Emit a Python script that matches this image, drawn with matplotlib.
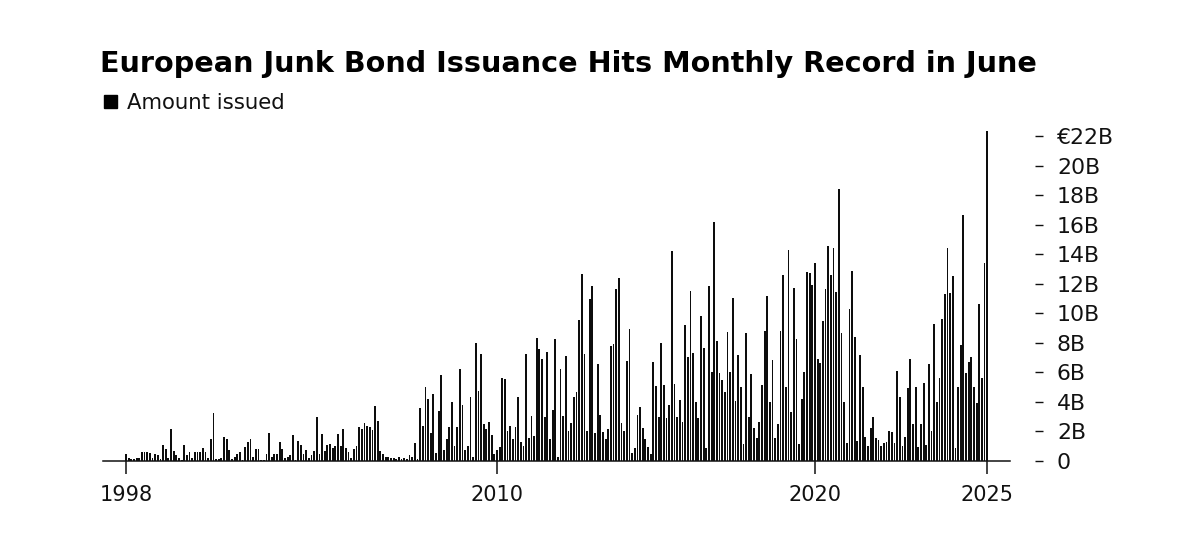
import numpy as np
import matplotlib
matplotlib.use("Agg")
import matplotlib.pyplot as plt
from matplotlib.patches import Rectangle
import pandas as pd

# Monthly European high-yield issuance, EUR billions (May 1998 - Jun 2025)
amt_1998 = [0.45, 0.23, 0.14, 0.16, 0.18, 0.18, 0.59, 0.59]
amt_1999 = [0.59, 0.52, 0.2, 0.5, 0.38, 0.15, 1.06, 0.79, 0.18, 2.14, 0.68, 0.43]
amt_2000 = [0.23, 0.1, 1.06, 0.43, 0.59, 0.23, 0.59, 0.59, 0.59, 0.9, 0.59, 0.23]
amt_2001 = [1.49, 3.27, 0.15, 0.11, 0.2, 1.65, 1.51, 0.74, 0.16, 0.3, 0.45, 0.6]
amt_2002 = [0.1, 0.93, 1.3, 1.49, 0.3, 0.84, 0.79, 0.1, 0.1, 0.5, 1.9, 0.3]
amt_2003 = [0.5, 0.5, 1.29, 0.79, 0.18, 0.3, 0.4, 1.78, 0.1, 1.38, 1.06, 0.45]
amt_2004 = [0.77, 0.18, 0.4, 0.65, 3.0, 0.5, 1.8, 0.68, 1.06, 1.15, 0.9, 0.99]
amt_2005 = [1.85, 0.99, 2.17, 0.9, 0.6, 0.18, 0.84, 1.0, 2.3, 2.2, 2.55, 2.4]
amt_2006 = [2.28, 2.1, 3.7, 2.7, 0.65, 0.45, 0.3, 0.25, 0.2, 0.18, 0.11, 0.27]
amt_2007 = [0.11, 0.2, 0.15, 0.38, 0.25, 1.24, 0.16, 3.57, 2.39, 5.03, 4.18, 1.87]
amt_2008 = [4.56, 0.52, 3.4, 5.85, 0.74, 1.5, 2.32, 4.0, 1.04, 2.28, 6.23, 3.77]
amt_2009 = [0.74, 1.0, 4.36, 0.29, 8.01, 4.76, 7.25, 2.5, 2.17, 2.66, 1.76, 0.47]
amt_2010 = [0.74, 0.93, 5.64, 5.53, 2.0, 2.39, 1.47, 2.3, 4.31, 1.29, 1.0, 7.25]
amt_2011 = [1.58, 3.02, 1.69, 8.33, 7.56, 6.93, 3.0, 7.4, 1.5, 3.45, 8.26, 0.29]
amt_2012 = [6.23, 3.05, 7.09, 2.0, 2.57, 4.36, 4.7, 9.55, 12.66, 7.22, 2.0, 11.0]
amt_2013 = [11.87, 1.92, 6.57, 3.09, 1.96, 1.5, 2.14, 7.79, 7.92, 11.63, 12.4, 2.6]
amt_2014 = [2.0, 6.77, 8.94, 0.52, 0.86, 3.09, 3.68, 2.21, 1.5, 0.97, 0.45, 6.68]
amt_2015 = [5.1, 3.0, 8.0, 5.17, 2.93, 3.79, 14.2, 5.24, 3.0, 4.13, 2.62, 9.19]
amt_2016 = [7.02, 11.53, 7.34, 4.0, 2.93, 9.82, 7.63, 0.9, 11.83, 6.0, 16.2, 8.13]
amt_2017 = [5.98, 5.49, 4.65, 8.74, 6.0, 11.06, 4.06, 7.18, 4.99, 1.15, 8.65, 3.0]
amt_2018 = [5.89, 2.21, 1.58, 2.63, 5.17, 8.8, 11.2, 3.97, 6.84, 1.58, 2.5, 8.83]
amt_2019 = [12.57, 5.0, 14.27, 3.3, 11.72, 8.28, 1.15, 4.18, 6.0, 12.82, 12.71, 11.9]
amt_2020 = [13.43, 6.88, 6.64, 9.5, 11.67, 14.58, 12.6, 14.4, 11.47, 18.42, 8.65, 4.0]
amt_2021 = [1.22, 10.32, 12.89, 8.37, 1.35, 7.16, 5.03, 1.6, 1.0, 2.21, 2.98, 1.53]
amt_2022 = [1.42, 1.0, 1.2, 1.31, 2.03, 1.99, 1.2, 6.1, 4.31, 1.0, 1.6, 4.92]
amt_2023 = [6.88, 2.5, 4.99, 0.97, 2.5, 5.28, 1.08, 6.59, 2.0, 9.26, 4.0, 5.6]
amt_2024 = [9.62, 11.33, 14.42, 11.35, 12.53, 0.86, 5.0, 7.88, 16.66, 5.94, 6.68, 7.02]
amt_2025 = [5.0, 3.9, 10.6, 5.6, 13.39, 22.37]

yearly = [amt_1998, amt_1999, amt_2000, amt_2001, amt_2002, amt_2003, amt_2004,
          amt_2005, amt_2006, amt_2007, amt_2008, amt_2009, amt_2010, amt_2011,
          amt_2012, amt_2013, amt_2014, amt_2015, amt_2016, amt_2017, amt_2018,
          amt_2019, amt_2020, amt_2021, amt_2022, amt_2023, amt_2024, amt_2025]
amounts = np.concatenate([np.asarray(v, dtype=float) for v in yearly])
months = pd.date_range("1998-05-01", periods=len(amounts), freq="MS")

tick_dates = pd.to_datetime(["1998-05-01", "2010-01-01", "2020-01-01", "2025-06-01"])
tick_labels = ["1998", "2010", "2020", "2025"]
y_ticks = [0, 2, 4, 6, 8, 10, 12, 14, 16, 18, 20, 22]
y_labels = ["0", "2B", "4B", "6B", "8B", "10B", "12B", "14B", "16B", "18B", "20B", "€22B"]

title = "European Junk Bond Issuance Hits Monthly Record in June"
legend_label = "Amount issued"

plt.rcParams['font.family'] = ['DejaVu Sans']

W, H = 1200, 549
fig = plt.figure(figsize=(W / 100, H / 100), dpi=100)
ax = fig.add_axes([103 / W, (H - 461) / H, (1010 - 103) / W, (461 - 127.2) / H])

x = np.arange(len(amounts))
ax.bar(x, amounts, width=0.68, color="#0d0d0d", edgecolor="none")
ax.set_xlim(-8.68, 333.6)
ax.set_ylim(0, 22.6)

pos = [months.get_loc(d) for d in tick_dates]
ax.set_xticks(pos)
ax.set_xticklabels(tick_labels)
ax.tick_params(axis="x", direction="out", length=9, width=1.1, color="#111111",
               labelsize=15, pad=8, labelcolor="#111111")

ax.yaxis.tick_right()
ax.spines["right"].set_position(("outward", 18))
ax.spines["right"].set_visible(False)
ax.set_yticks(y_ticks)
ax.set_yticklabels(y_labels)
ax.tick_params(axis="y", direction="out", length=5.8, width=1.0, color="#111111",
               labelsize=15.8, pad=10, labelcolor="#111111")

for s in ["top", "left"]:
    ax.spines[s].set_visible(False)
ax.spines["bottom"].set_linewidth(1.1)
ax.spines["bottom"].set_color("#111111")

fig.text(100 / W, (H - 72) / H, title, fontsize=20.6, fontweight="bold",
         color="black", va="baseline", ha="left")
fig.patches.append(Rectangle((104 / W, (H - 108) / H), 13 / W, 13 / H,
                             transform=fig.transFigure, color="black", figure=fig))
fig.text(127 / W, (H - 109) / H, legend_label, fontsize=15.3, color="#111111",
         va="baseline", ha="left")

fig.savefig("out.png", dpi=100)
